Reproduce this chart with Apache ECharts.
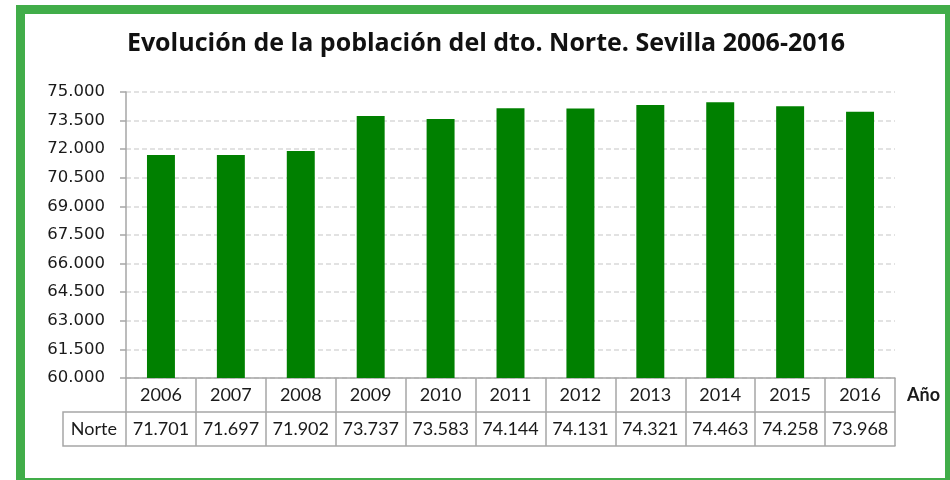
<!DOCTYPE html>
<html>
<head>
<meta charset="utf-8">
<script src="https://cdn.jsdelivr.net/npm/echarts@6/dist/echarts.min.js"></script>
<style>html,body{margin:0;padding:0;background:#fff}#c{width:950px;height:480px}</style>
</head>
<body>
<div id="c"></div>
<script>
const years = ['2006','2007','2008','2009','2010','2011','2012','2013','2014','2015','2016'];
const norte = [71701, 71697, 71902, 73737, 73583, 74144, 74131, 74321, 74463, 74258, 73968];
const seriesName = 'Norte';
const axisName = 'Año';
const titleText = 'Evolución de la población del dto. Norte. Sevilla 2006-2016';
const yMin = 60000, yMax = 75000, yStep = 1500;

function fmt(n){ return String(n).replace(/\B(?=(\d{3})+(?!\d))/g, '.'); }

const GL = 126, GR = 55, GT = 92, GB = 102, W = 950, H = 480;
const ROW = 34;
const gridBottomY = H - GB;
const lineC = '#a6a6a6';
const txt = '#1a1a1a';
const tableFont = {fontFamily: 'Lato', fontSize: 18, color: txt};

const chart = echarts.init(document.getElementById('c'), null, {renderer: 'canvas'});
chart.setOption({
  backgroundColor: '#fff',
  animation: false,
  title: {
    text: titleText, left: 486, top: 30, padding: 0, textAlign: 'center',
    textStyle: {fontFamily: 'Open Sans', fontWeight: 'bold', fontSize: 25, lineHeight: 27, color: '#111'}
  },
  grid: {left: GL, right: GR, top: GT, bottom: GB, containLabel: false},
  xAxis: [
    {
      type: 'category', data: years, position: 'bottom', offset: 0,
      axisLine: {show: true, lineStyle: {color: lineC, width: 1.5}},
      axisTick: {show: true, length: ROW * 2, lineStyle: {color: lineC, width: 1.5}},
      axisLabel: Object.assign({interval: 0, margin: 0, verticalAlign: 'top', lineHeight: ROW}, tableFont),
      name: axisName, nameLocation: 'end', nameGap: 12,
      nameTextStyle: {fontFamily: 'Lato', fontSize: 18, fontWeight: 'bold', color: txt, verticalAlign: 'top', lineHeight: ROW}
    },
    {
      type: 'category', data: years, position: 'bottom', offset: ROW,
      axisLine: {show: true, lineStyle: {color: lineC, width: 1.5}},
      axisTick: {show: false},
      axisLabel: Object.assign({interval: 0, margin: 0, verticalAlign: 'top', lineHeight: ROW, formatter: (v, i) => fmt(norte[i])}, tableFont),
      name: seriesName, nameLocation: 'start', nameGap: 9,
      nameTextStyle: Object.assign({verticalAlign: 'top', align: 'right', lineHeight: ROW}, tableFont)
    },
    {
      type: 'category', data: years, position: 'bottom', offset: ROW * 2,
      axisLine: {show: true, lineStyle: {color: lineC, width: 1.5}},
      axisTick: {show: false}, axisLabel: {show: false}
    }
  ],
  yAxis: {
    type: 'value', min: yMin, max: yMax, interval: yStep,
    axisLine: {show: true, lineStyle: {color: lineC, width: 1.5}},
    axisTick: {show: true, length: 6, lineStyle: {color: lineC, width: 1.5}},
    axisLabel: {formatter: fmt, margin: 21, fontFamily: 'DejaVu Sans', fontSize: 16.5, color: txt},
    splitLine: {show: true, lineStyle: {color: '#d9d9d9', width: 1.5, type: [5, 3]}}
  },
  series: [{
    type: 'bar', name: seriesName, data: norte, barWidth: '40%',
    itemStyle: {color: '#008000'}
  }],
  graphic: [
    {
      type: 'polyline', silent: true,
      shape: {points: [[GL, gridBottomY + ROW], [63, gridBottomY + ROW], [63, gridBottomY + 2 * ROW], [GL, gridBottomY + 2 * ROW]]},
      style: {stroke: lineC, lineWidth: 1.5, fill: null}
    },
    {
      type: 'rect', silent: true, z: 100,
      shape: {x: 20.5, y: 9.5, width: 929, height: 473},
      style: {stroke: '#41ad49', lineWidth: 9, fill: null}
    }
  ]
});
</script>
</body>
</html>
